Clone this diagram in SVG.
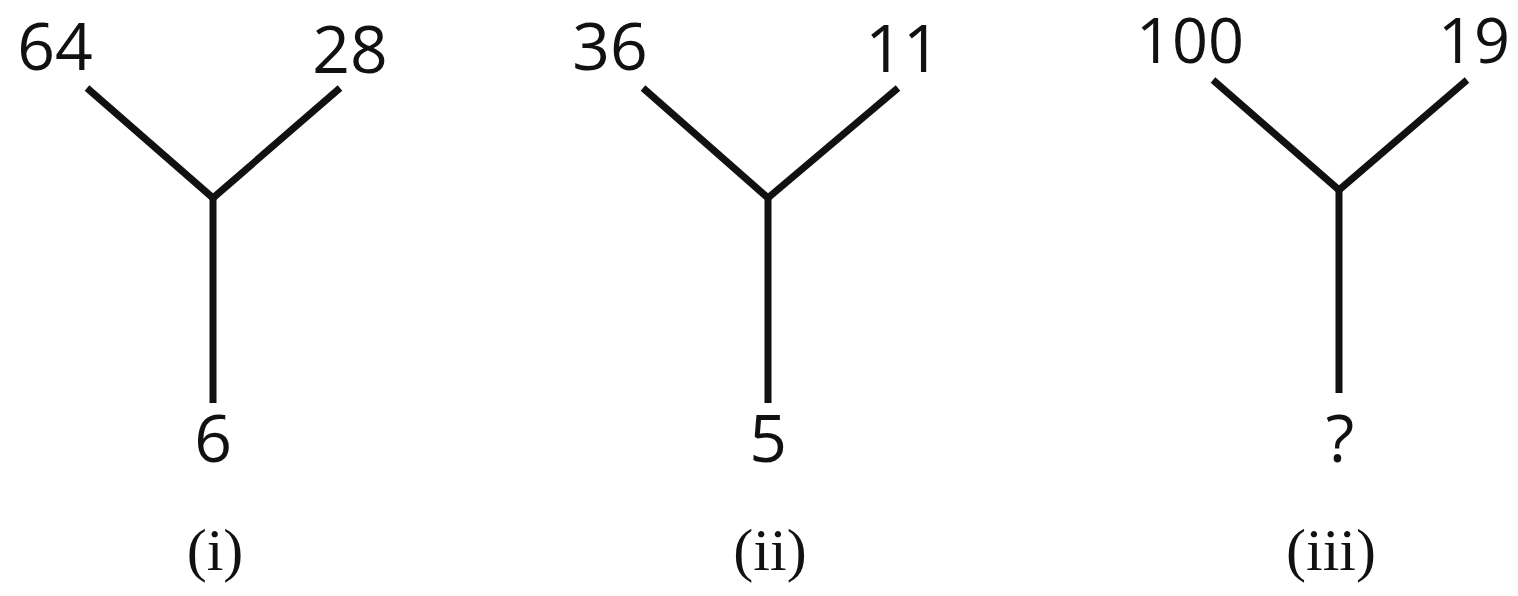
<svg xmlns="http://www.w3.org/2000/svg" width="1518" height="596" viewBox="0 0 1518 596">
<style>
.n{font-family:"Open Sans","Liberation Sans",sans-serif;font-size:66px;fill:#111;text-anchor:middle;}
.t{font-size:63px;}
.c{font-family:"Liberation Serif",serif;font-size:60px;fill:#111;text-anchor:middle;}
.l{stroke:#111;stroke-width:7;fill:none;stroke-linecap:butt;stroke-linejoin:miter;}
</style>
<rect width="1518" height="596" fill="#fff"/>
<g id="connectors">
<polyline class="l" points="87,88 213,198 340,88"/>
<line class="l" x1="213" y1="198" x2="213" y2="403"/>
<polyline class="l" points="643,88 768,198 898,88"/>
<line class="l" x1="768" y1="198" x2="768" y2="403"/>
<polyline class="l" points="1213,80 1339,190 1467,80"/>
<line class="l" x1="1339" y1="190" x2="1339" y2="393"/>
</g>
<g id="tree1">
<text class="n" x="55" y="70">64</text>
<text class="n" x="350" y="73">28</text>
<text class="n" x="213" y="462">6</text>
<text class="c" x="215" y="570">(i)</text>
</g>
<g id="tree2">
<text class="n" x="610" y="70">36</text>
<text class="n" x="903" y="72">11</text>
<text class="n" x="768" y="462">5</text>
<text class="c" x="770" y="570">(ii)</text>
</g>
<g id="tree3">
<text class="n t" x="1190" y="63">100</text>
<text class="n t" x="1474" y="63">19</text>
<text class="n" x="1340" y="462">?</text>
<text class="c" x="1331" y="570">(iii)</text>
</g>
</svg>
